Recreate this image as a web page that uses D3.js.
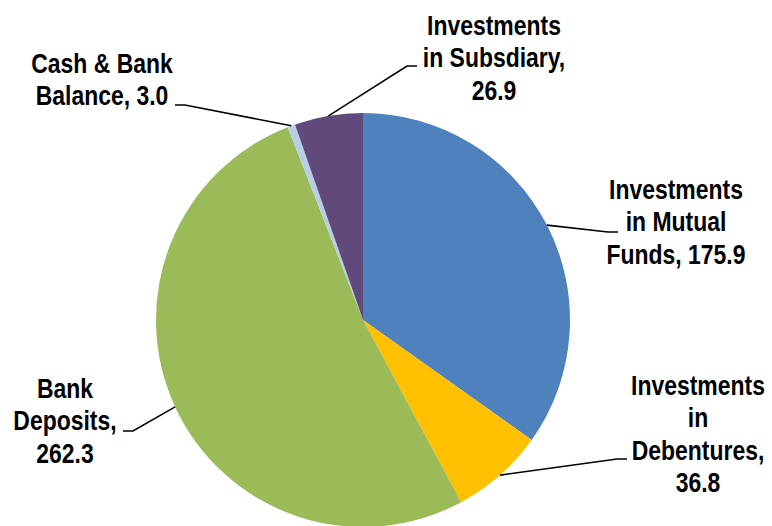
<!DOCTYPE html>
<html>
  <head>
  <title>Investments Pie</title>
  </head>
  <body>

  <svg id="svg" width="772" height="526"></svg>

  <script src="https://d3js.org/d3.v7.min.js"></script>
  <script>
        const categories = ['Investments in Mutual Funds', 'Investments in Debentures', 'Bank Deposits', 'Cash & Bank Balance', 'Investments in Subsdiary']
        const values = [175.9, 36.8, 262.3, 3.0, 26.9]
        const labelLines = [
            ['Investments', 'in Mutual', 'Funds, 175.9'],
            ['Investments', 'in', 'Debentures,', '36.8'],
            ['Bank', 'Deposits,', '262.3'],
            ['Cash & Bank', 'Balance, 3.0'],
            ['Investments', 'in Subsdiary,', '26.9']
        ]
        const colors = ['#4f81bd', '#ffc000', '#9bbb59', '#b9cde5', '#604a7b']

        // label block centre x, first baseline y, elbow point and direction of the short tick
        const labelPos = [
            { x: 676, y: 199, ex: 608, ey: 232, dir: 1 },
            { x: 698, y: 395, ex: 617, ey: 459, dir: 1 },
            { x: 65, y: 398, ex: 133, ey: 431, dir: -1 },
            { x: 102, y: 73, ex: 185, ey: 105, dir: -1 },
            { x: 494, y: 35, ex: 407, ey: 66, dir: 1 }
        ]

        const cx = 363, cy = 320, r = 207
        const svg = d3.select('#svg')
        const g = svg.append('g').attr('transform', `translate(${cx},${cy})`)

        const pie = d3.pie().sort(null).value(d => d)
        const arcs = pie(values)
        const arcgen = d3.arc().innerRadius(0).outerRadius(r)

        g.selectAll('path.slice')
            .data(arcs)
            .join('path')
            .attr('class', 'slice')
            .attr('d', arcgen)
            .attr('fill', (d, i) => colors[i])

        // leader lines
        arcs.forEach((d, i) => {
            const mid = (d.startAngle + d.endAngle) / 2
            const sx = cx + r * Math.sin(mid)
            const sy = cy - r * Math.cos(mid)
            const p = labelPos[i]
            svg.append('polyline')
                .attr('points', `${sx},${sy} ${p.ex},${p.ey} ${p.ex + p.dir * 10},${p.ey}`)
                .attr('fill', 'none')
                .attr('stroke', '#000')
                .attr('stroke-width', 1.6)
        })

        // labels (no narrow font installed, so squeeze a bold sans horizontally)
        const squeeze = 0.85
        labelLines.forEach((lines, i) => {
            const p = labelPos[i]
            const t = svg.append('text')
                .attr('transform', `translate(${p.x},0) scale(${squeeze},1)`)
                .attr('text-anchor', 'middle')
                .attr('font-family', '"Liberation Sans", Arial, sans-serif')
                .attr('font-weight', 'bold')
                .attr('font-size', 27)
                .attr('fill', '#000')
            lines.forEach((s, k) => {
                t.append('tspan')
                    .attr('x', 0)
                    .attr('y', p.y + k * 32.5)
                    .text(s)
            })
        })
  </script>
  <style>
    body, html {
      margin: 0;
      padding: 0;
      background: #fff;
    }
    #svg {
      display: block;
    }
  </style>
  </body>
</html>
